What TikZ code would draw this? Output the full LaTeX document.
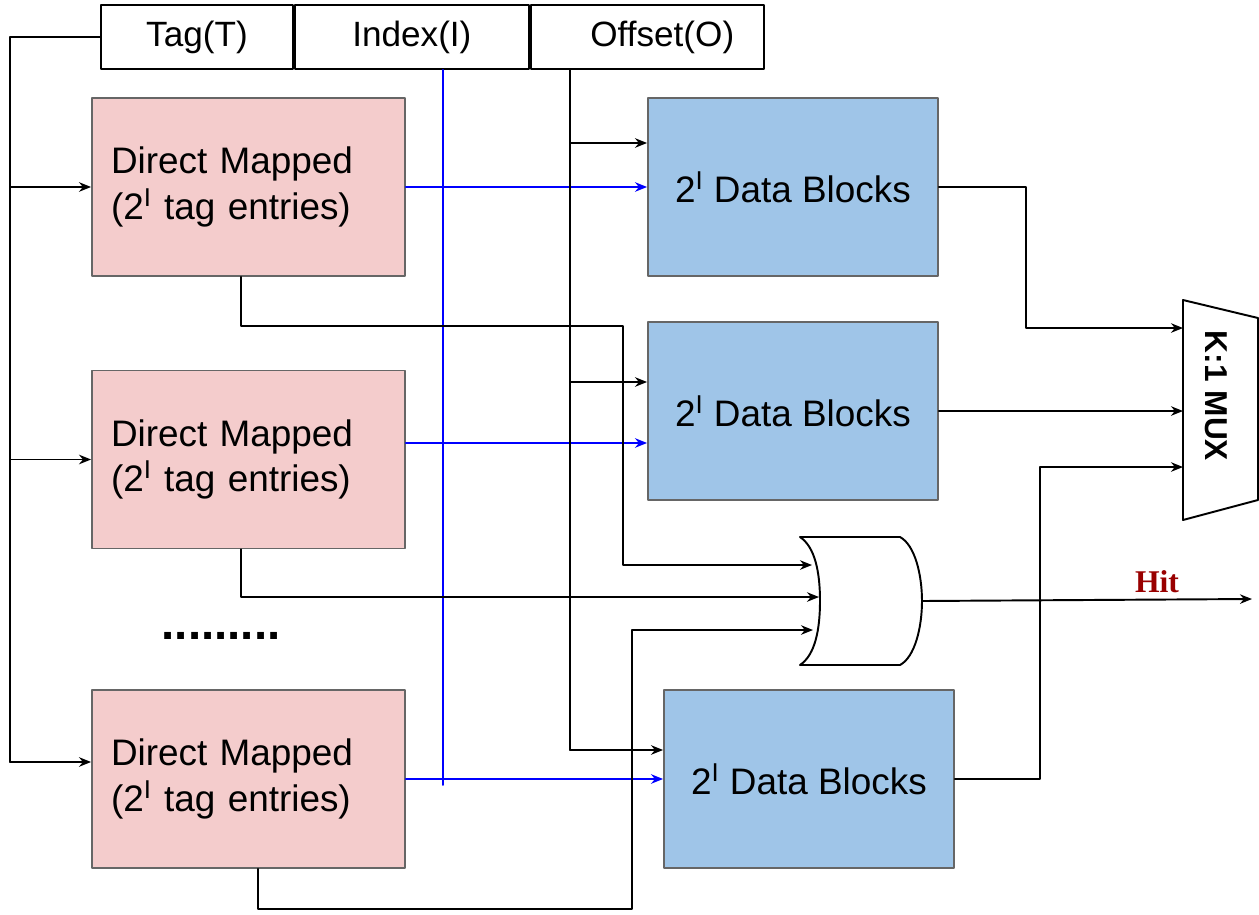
\documentclass[tikz,border=0pt]{standalone}
\usepackage{fontspec}
\setmainfont{Liberation Sans}
\newfontfamily\hitfont{Liberation Serif}
\usetikzlibrary{arrows.meta,positioning}

\begin{document}
\begin{tikzpicture}[x=0.02cm, y=-0.02cm, line join=round, line cap=round,
  >={Stealth[length=2.4mm,width=1.9mm]},
  wire/.style={line width=1.1pt, black},
  idxwire/.style={line width=1.1pt, blue},
  field/.style={draw, line width=1.1pt, minimum height=1.28cm, inner sep=0pt,
    font=\fontsize{20}{24}\selectfont},
  tagstore/.style={draw=boxgray, fill=tagpink, line width=1.1pt,
    minimum width=6.26cm, minimum height=3.56cm, text width=5.5cm,
    inner xsep=0.38cm, align=left, font=\fontsize{21}{26}\selectfont},
  datastore/.style={draw=boxgray, fill=datablue, line width=1.1pt,
    minimum width=5.8cm, minimum height=3.56cm, font=\fontsize{21}{25.5}\selectfont},
  hitlabel/.style={text=hitred, font=\hitfont\bfseries\fontsize{18}{21}\selectfont}]

% ---------- colours ----------
\definecolor{tagpink}{RGB}{244,204,204}
\definecolor{datablue}{RGB}{159,197,232}
\definecolor{boxgray}{RGB}{102,102,102}
\definecolor{hitred}{RGB}{153,0,0}

\useasboundingbox (0,0) rectangle (1259,914);

% ---------- address ----------
\node[field, minimum width=3.84cm] (tag) at (197,37) {Tag(T)};
\node[field, minimum width=4.68cm, right=0pt of tag] (index) {Index(I)};
\node[field, minimum width=4.66cm, right=0pt of index] (offset) {\hspace{0.6cm}Offset(O)};

% ---------- tag stores ----------
\node[tagstore] (dm1) at (248.5,187) {Direct Mapped\\(2\textsuperscript{I} tag entries)};
\node[tagstore] (dm2) at (248.5,459.5) {Direct Mapped\\(2\textsuperscript{I} tag entries)};
\node[tagstore] (dm3) at (248.5,779) {Direct Mapped\\(2\textsuperscript{I} tag entries)};
\node[font=\bfseries\fontsize{27}{30}\selectfont] (dots) at (221,636) {.........};

% ---------- data stores ----------
\node[datastore] (db1) at (793,187) {2\textsuperscript{I} Data Blocks};
\node[datastore] (db2) at (793,411) {2\textsuperscript{I} Data Blocks};
\node[datastore] (db3) at (809,779) {2\textsuperscript{I} Data Blocks};

% tag bus
\coordinate (tbus) at (10,37);
\coordinate (t3) at (10,762);
\draw[wire] (tag.west) -- (tbus) -- (t3);
\draw[wire,->] (tbus |- dm1.west) -- (dm1.west);
\draw[wire,->] (tbus |- dm2.west) -- (dm2.west);
\draw[wire,->] (t3) -- (dm3.west |- t3);

% index bus
\coordinate (ibus) at (443,785);
\coordinate (i2) at (443,443);
\draw[idxwire] (index.south -| ibus) -- (ibus);
\draw[idxwire,->] (dm1.east) -- (db1.west);
\draw[idxwire,->] (dm2.east |- i2) -- (db2.west |- i2);
\draw[idxwire,->] (dm3.east) -- (db3.west);

% offset bus
\coordinate (obus) at (570,750);
\coordinate (o1) at (570,143);
\coordinate (o2) at (570,382);
\draw[wire] (offset.south -| obus) -- (obus);
\draw[wire,->] (o1) -- (db1.west |- o1);
\draw[wire,->] (o2) -- (db2.west |- o2);
\draw[wire,->] (obus) -- (db3.west |- obus);

% ---------- or gate ----------
\draw[line width=1.1pt, fill=white] (800,537) -- (900,537)
  .. controls (915,545) and (922,575) .. (922,601)
  .. controls (922,627) and (915,657) .. (900,665) -- (800,665)
  .. controls (815,655) and (820,630) .. (820,601)
  .. controls (820,572) and (815,547) .. (800,537) -- cycle;
\coordinate (or1) at (812,565);
\coordinate (or2) at (819,597);
\coordinate (or3) at (813,630);
\coordinate (orout) at (922,601);
\coordinate (hitend) at (1252,599);

% match lines
\coordinate (h1) at (241,326);
\coordinate (h1b) at (623,326);
\draw[wire,->] (dm1.south -| h1) -- (h1) -- (h1b) |- (or1);
\coordinate (h2) at (241,597);
\draw[wire,->] (dm2.south -| h2) -- (h2) -- (or2);
\coordinate (h3) at (258,909);
\coordinate (h3b) at (632,909);
\draw[wire,->] (dm3.south -| h3) -- (h3) -- (h3b) |- (or3);

\draw[wire,->] (orout) -- (hitend);
\node[hitlabel] (hit) at (1157,582) {Hit};

% ---------- mux ----------
\draw[line width=1.1pt, fill=white] (1183,300) -- (1258,318) -- (1258,500) -- (1183,520) -- cycle;
\node[rotate=-90, font=\bfseries\fontsize{18}{20}\selectfont] (muxlabel) at (1216,396) {K:1 MUX};
\coordinate (k1) at (1183,328);
\coordinate (k2) at (1183,410);
\coordinate (k3) at (1183,467);

\coordinate (d1) at (1026,187);
\draw[wire,->] (db1.east) -- (d1) |- (k1);
\draw[wire,->] (db2.east) -- (db2.east -| k2);
\coordinate (d3) at (1040,779);
\draw[wire,->] (db3.east) -- (d3) |- (k3);

\end{tikzpicture}
\end{document}
